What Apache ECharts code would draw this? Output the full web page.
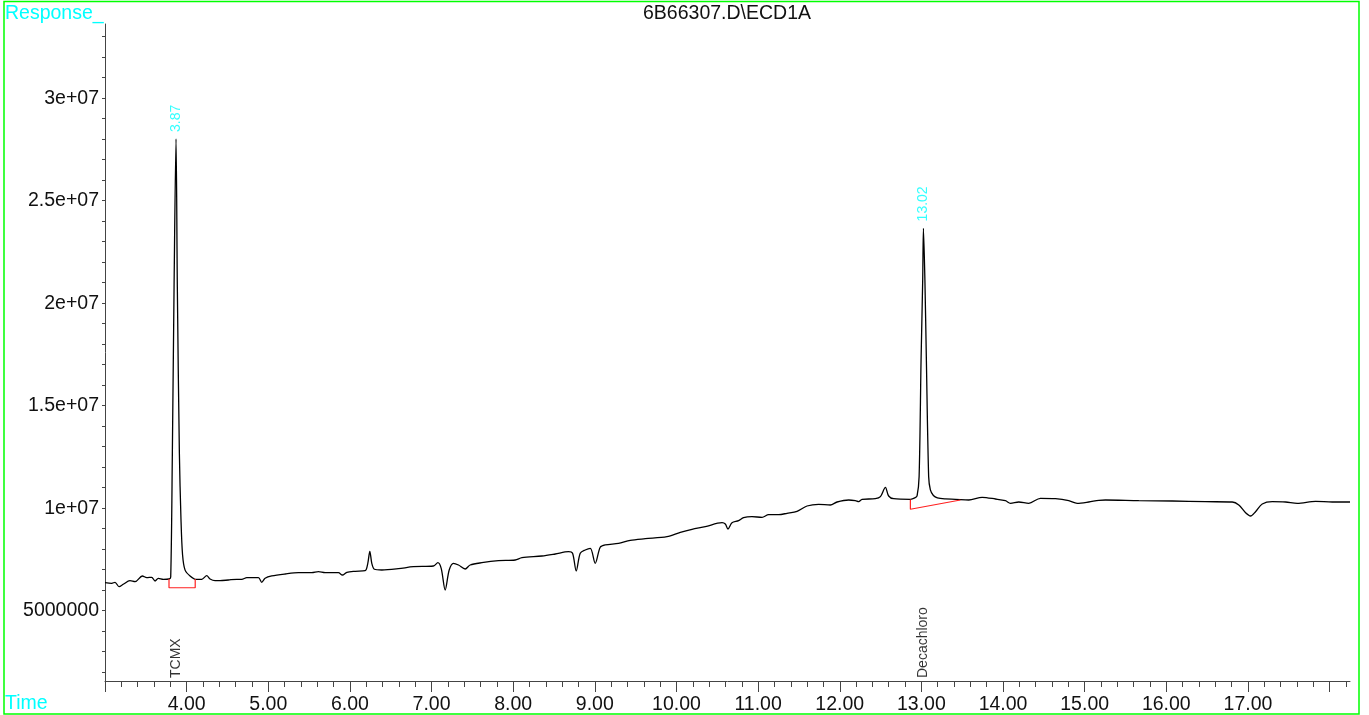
<!DOCTYPE html>
<html>
<head>
<meta charset="utf-8">
<script src="https://cdn.jsdelivr.net/npm/echarts@6/dist/echarts.min.js"></script>
<style>
html,body{margin:0;padding:0;background:#fff;}
#chart{width:1369px;height:715px;}
</style>
</head>
<body>
<div id="chart"></div>
<script>
// ---- data ----
const chartTitle = '6B66307.D\\ECD1A';
const yAxisName = 'Response_';
const xAxisName = 'Time';

// chromatogram trace: [time (min), response]
const trace = [
  [3.000,6.366e6],[3.082,6.337e6],[3.123,6.385e6],[3.172,6.171e6],[3.224,6.288e6],[3.306,6.463e6],
  [3.368,6.415e6],[3.457,6.693e6],[3.511,6.610e6],[3.572,6.629e6],[3.613,6.449e6],[3.653,6.580e6],
  [3.714,6.532e6],[3.784,6.546e6],
  [3.805,6.644e6],[3.825,12.69e6],[3.846,20.79e6],[3.870,28.01e6],[3.886,20.79e6],[3.911,12.69e6],
  [3.931,9.42e6],[3.950,7.73e6],[3.980,6.99e6],[4.042,6.69e6],[4.111,6.532e6],
  [4.185,6.532e6],[4.246,6.707e6],[4.287,6.546e6],[4.348,6.463e6],[4.409,6.463e6],[4.511,6.498e6],
  [4.614,6.532e6],[4.675,6.532e6],[4.737,6.610e6],[4.879,6.610e6],[4.920,6.385e6],[4.961,6.580e6],
  [5.043,6.693e6],[5.206,6.790e6],[5.369,6.854e6],[5.533,6.854e6],[5.614,6.902e6],[5.696,6.854e6],
  [5.859,6.854e6],[5.908,6.741e6],[5.962,6.873e6],[6.064,6.922e6],
  [6.186,6.951e6],[6.219,7.312e6],[6.244,7.898e6],[6.268,7.312e6],[6.300,7.020e6],[6.391,6.985e6],
  [6.594,7.049e6],[6.778,7.146e6],[7.023,7.180e6],[7.077,7.341e6],[7.118,7.068e6],[7.167,6.010e6],
  [7.216,6.985e6],[7.268,7.312e6],[7.330,7.229e6],[7.412,7.034e6],[7.473,7.229e6],[7.616,7.341e6],
  [7.820,7.439e6],[8.025,7.473e6],[8.107,7.585e6],[8.352,7.668e6],[8.515,7.766e6],[8.678,7.878e6],
  [8.727,7.800e6],[8.772,6.937e6],[8.821,7.800e6],[8.882,7.961e6],[8.944,8.044e6],[9.005,7.312e6],
  [9.066,8.093e6],[9.127,8.205e6],
  [9.290,8.288e6],[9.434,8.434e6],[9.618,8.512e6],[9.884,8.610e6],[10.047,8.824e6],[10.190,8.971e6],
  [10.353,9.098e6],[10.558,9.293e6],[10.598,9.229e6],[10.631,8.985e6],[10.680,9.293e6],[10.761,9.390e6],
  [10.822,9.537e6],[10.925,9.585e6],[11.048,9.556e6],[11.129,9.683e6],[11.251,9.683e6],[11.354,9.751e6],
  [11.477,9.849e6],[11.599,10.107e6],[11.741,10.190e6],[11.885,10.156e6],[11.967,10.302e6],[12.109,10.400e6],
  [12.191,10.366e6],
  [12.232,10.317e6],[12.273,10.434e6],[12.436,10.463e6],[12.498,10.561e6],[12.559,11.020e6],[12.599,10.595e6],
  [12.660,10.463e6],[12.865,10.434e6],
  [12.919,10.50e6],[12.947,10.60e6],[12.972,11.54e6],[12.996,17.23e6],[13.016,21.13e6],[13.025,23.65e6],
  [13.043,21.13e6],[13.061,17.23e6],[13.089,11.54e6],[13.110,10.89e6],[13.147,10.62e6],[13.196,10.50e6],
  [13.294,10.45e6],
  [13.417,10.434e6],[13.580,10.400e6],[13.744,10.532e6],[13.907,10.449e6],[14.029,10.366e6],[14.091,10.239e6],
  [14.193,10.302e6],[14.315,10.239e6],[14.458,10.483e6],[14.642,10.463e6],[14.805,10.366e6],[14.908,10.239e6],
  [15.050,10.302e6],[15.173,10.385e6],[15.255,10.400e6],
  [15.663,10.366e6],[16.072,10.351e6],[16.480,10.317e6],[16.808,10.302e6],[16.888,10.156e6],[16.971,9.780e6],
  [17.032,9.619e6],[17.093,9.829e6],[17.175,10.205e6],[17.298,10.317e6],[17.461,10.302e6],[17.604,10.239e6],
  [17.828,10.337e6],[18.033,10.302e6],[18.25,10.302e6]
];

// integration baselines (red)
const baselineTCMX = [[3.784,6.55e6],[3.784,6.12e6],[4.105,6.12e6],[4.105,6.55e6]];
const baselineDeca = [[12.865,10.43e6],[12.865,9.95e6],[13.478,10.40e6]];

// retention time labels on peaks
const peakTimes = [3.87, 13.025];
const peakHeights = [28.01e6, 23.65e6];
const peakLabels = ['3.87', '13.02'];

// compound names at the bottom
const compoundTimes = [3.87, 13.02];
const compoundNames = ['TCMX', 'Decachloro'];

// axes
const xMin = 3, xMax = 18.25;
const yMin = 1.57e6, yMax = 3.362e7;
const yTickValues = [5e6, 1e7, 1.5e7, 2e7, 2.5e7, 3e7];
const yTickLabels = ['5000000', '1e+07', '1.5e+07', '2e+07', '2.5e+07', '3e+07'];
const yMinorStep = 1e6;
const xHiddenLabels = [3, 18];

// ---- chart ----
const FONT = "'Liberation Sans', Arial, sans-serif";
const yMinorTicks = [];
for (let v = 2e6; v <= yMax; v += yMinorStep) yMinorTicks.push(v);
const xMinorTicks = [];
for (let k = 0; k < 80; k++) {
  const v = xMin + k * 0.2;
  if (v > xMax + 1e-9) break;
  if (Math.abs(v - Math.round(v)) > 1e-6) xMinorTicks.push(+v.toFixed(2));
}
const xMajorTicks = [];
for (let v = Math.ceil(xMin); v <= xMax; v++) xMajorTicks.push(v);

const chart = echarts.init(document.getElementById('chart'), null, {renderer: 'canvas'});
chart.setOption({
  animation: false,
  backgroundColor: '#ffffff',
  grid: {left: 105, right: 19, top: 24, bottom: 34},
  xAxis: [{
    type: 'value', min: xMin, max: xMax, interval: 1,
    axisLine: {show: true, lineStyle: {color: '#444', width: 1}},
    axisTick: {show: true, length: 11, customValues: xMajorTicks, lineStyle: {color: '#444'}},
    axisLabel: {
      show: true, margin: 14, color: '#111', fontSize: 19.5, fontFamily: FONT,
      customValues: xMajorTicks,
      formatter: function (v) {
        for (const h of xHiddenLabels) if (Math.abs(v - h) < 1e-6) return '';
        return v.toFixed(2);
      }
    },
    splitLine: {show: false}
  }, {
    type: 'value', min: xMin, max: xMax, position: 'bottom', gridIndex: 0,
    axisLine: {show: false},
    axisTick: {show: true, length: 6, customValues: xMinorTicks, lineStyle: {color: '#444'}},
    axisLabel: {show: false},
    splitLine: {show: false}
  }],
  yAxis: {
    type: 'value', min: yMin, max: yMax,
    axisLine: {show: true, lineStyle: {color: '#444', width: 1}},
    axisTick: {show: true, length: 3, customValues: yMinorTicks, lineStyle: {color: '#444'}},
    axisLabel: {
      show: true, margin: 6, color: '#111', fontSize: 19.5, fontFamily: FONT,
      customValues: yTickValues,
      formatter: function (v) {
        for (let i = 0; i < yTickValues.length; i++) if (Math.abs(v - yTickValues[i]) < 1) return yTickLabels[i];
        return '';
      }
    },
    splitLine: {show: false}
  },
  graphic: [
    {type: 'rect', shape: {x: 4, y: 1.5, width: 1355, height: 712.5}, style: {fill: 'none', stroke: '#00ff00', lineWidth: 1.5}, silent: true, z: 100},
    {type: 'text', left: 643, top: 4, style: {text: chartTitle, fill: '#111', font: '19.5px ' + FONT}},
    {type: 'text', left: 5, top: 4, style: {text: yAxisName, fill: '#00ffff', font: '19.5px ' + FONT}},
    {type: 'text', left: 5, top: 694, style: {text: xAxisName, fill: '#00ffff', font: '19.5px ' + FONT}}
  ],
  series: [
    {
      type: 'line', data: trace, showSymbol: false, symbol: 'none', smooth: 0.3,
      lineStyle: {color: '#000', width: 1.3}, z: 3
    },
    {
      type: 'line', data: baselineTCMX, showSymbol: false, symbol: 'none',
      lineStyle: {color: '#ff2020', width: 1.2}, z: 4
    },
    {
      type: 'line', data: baselineDeca, showSymbol: false, symbol: 'none',
      lineStyle: {color: '#ff2020', width: 1.2}, z: 4
    },
    {
      type: 'scatter', symbolSize: 0,
      data: peakTimes.map((t, i) => ({value: [t, peakHeights[i]], name: peakLabels[i]})),
      label: {
        show: true, position: 'top', distance: 7, rotate: 90, align: 'left', verticalAlign: 'middle',
        formatter: p => p.name, color: '#00ffff', fontSize: 14, fontFamily: FONT
      }
    },
    {
      type: 'scatter', symbolSize: 0,
      data: compoundTimes.map((t, i) => ({value: [t, yMin], name: compoundNames[i]})),
      label: {
        show: true, position: 'top', distance: 3, rotate: 90, align: 'left', verticalAlign: 'middle',
        formatter: p => p.name, color: '#000', fontSize: 14, fontFamily: FONT
      }
    }
  ]
});
</script>
</body>
</html>
